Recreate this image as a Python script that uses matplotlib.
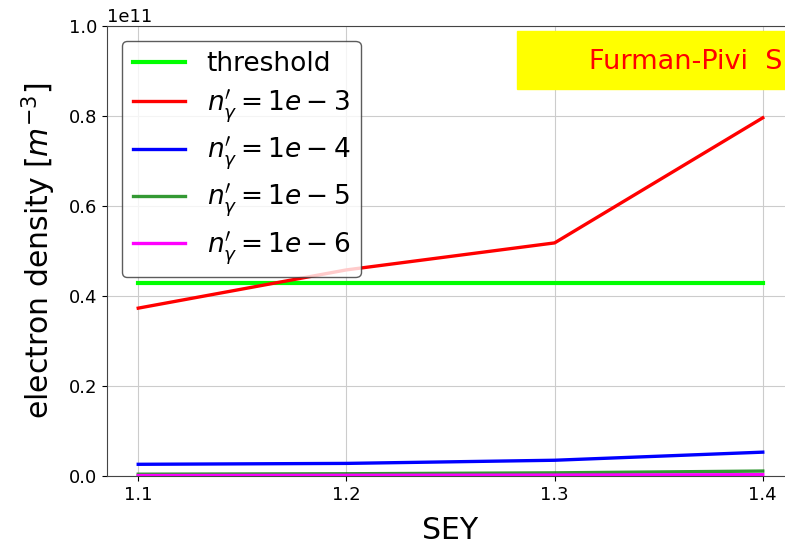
import matplotlib.pyplot as plt
from matplotlib.patches import Rectangle

# data (values in units of 1e11 m^-3)
sey = [1.1, 1.2, 1.3, 1.4]
threshold = [0.43e11, 0.43e11, 0.43e11, 0.43e11]
n_1e3 = [0.373e11, 0.458e11, 0.518e11, 0.796e11]
n_1e4 = [0.026e11, 0.028e11, 0.035e11, 0.053e11]
n_1e5 = [0.004e11, 0.005e11, 0.007e11, 0.011e11]
n_1e6 = [0.001e11, 0.0015e11, 0.002e11, 0.003e11]

fig = plt.figure(figsize=(7.85, 5.47), dpi=100)
# axes run past the right edge, like the cropped original
ax = fig.add_axes([107 / 785, 71 / 547, 687 / 785, 450 / 547])

ax.plot(sey, threshold, color='#00ff00', lw=3, label='threshold')
ax.plot(sey, n_1e3, color='red', lw=2.4, label=r"$n^{\prime}_{\gamma}=1e-3$")
ax.plot(sey, n_1e4, color='blue', lw=2.4, label=r"$n^{\prime}_{\gamma}=1e-4$")
ax.plot(sey, n_1e5, color='green', lw=2.4, alpha=0.8, label=r"$n^{\prime}_{\gamma}=1e-5$")
ax.plot(sey, n_1e6, color='magenta', lw=2.4, label=r"$n^{\prime}_{\gamma}=1e-6$")

ax.set_ylim(0, 1.0e11)
ax.set_xticks(sey)
ax.grid(True, color='#cccccc')
ax.tick_params(labelsize=13)
ax.yaxis.get_offset_text().set_fontsize(13)
ax.set_xlabel('SEY', fontsize=21.5, labelpad=9)
ax.set_ylabel(r'electron density [$m^{-3}$]', fontsize=21.5, labelpad=8)
for s in ax.spines.values():
    s.set_color('#444444')

ax.legend(loc='upper left', bbox_to_anchor=(0.022, 0.967), borderaxespad=0,
          fontsize=19, labelspacing=0.38, framealpha=0.8, edgecolor='#333333')

# yellow label box in the top right corner (cut by the figure edge as in the original)
fig.add_artist(Rectangle((517 / 785, 1 - 89 / 547), 0.4, 58 / 547,
                         transform=fig.transFigure, color='yellow', zorder=5))
fig.text(589 / 785, 1 - 69 / 547, 'Furman-Pivi  S', color='red',
         fontsize=19.5, family='DejaVu Sans', zorder=6)

fig.savefig('out.png', dpi=100)
